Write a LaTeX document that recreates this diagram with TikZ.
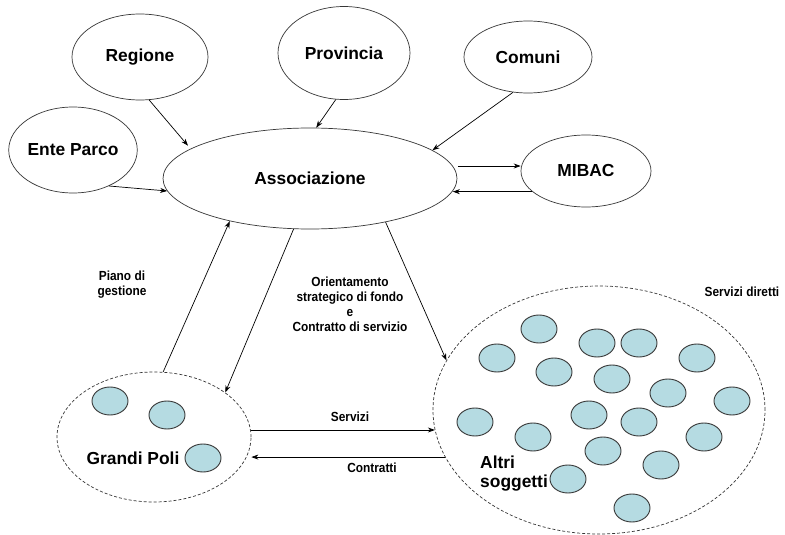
\documentclass[tikz,border=0pt]{standalone}
\usepackage{fontspec}
\setmainfont{Liberation Sans}
\newfontfamily\narrowfont[FakeStretch=0.9]{Liberation Sans}
\usetikzlibrary{shapes.geometric,arrows.meta}
\definecolor{poleblue}{RGB}{181,219,226}
\definecolor{rim}{RGB}{55,55,55}
\begin{document}
\begin{tikzpicture}[x=1pt,y=-1pt,
  bigtext/.style={font=\fontsize{17.4}{19}\selectfont\bfseries},
  smalltext/.style={font=\narrowfont\fontsize{13.2}{15}\selectfont\bfseries, align=center, inner sep=0pt},
  actor/.style={ellipse, draw=rim, line width=0.7pt, inner sep=0pt, bigtext},
  cluster/.style={ellipse, draw=rim, line width=0.7pt, dash pattern=on 3pt off 2pt, inner sep=0pt},
  pole/.style={ellipse, draw=rim, fill=poleblue, line width=0.9pt, minimum width=36pt, minimum height=28pt, inner sep=0pt},
  arr/.style={-{Stealth[length=7pt,width=5pt]}, line width=0.7pt, black}]
\useasboundingbox (0,0) rectangle (785,535);
\fill[white] (0,0) rectangle (785,535);

% institutional actors
\node[actor, minimum width=120pt, minimum height=86pt] (parco) at (73,150) {Ente Parco};
\node[actor, minimum width=136pt, minimum height=86pt] (regione) at (140,57) {Regione};
\node[actor, minimum width=132pt, minimum height=93pt] (provincia) at (344,53) {Provincia};
\node[actor, minimum width=128pt, minimum height=72pt] (comuni) at (528,57) {Comuni};
\node[actor, minimum width=130pt, minimum height=72pt] (mibac) at (586,171) {MIBAC};
\node[actor, minimum width=294pt, minimum height=101pt] (assoc) at (310,178.5) {Associazione};

% clusters of operators
\node[cluster, minimum width=194pt, minimum height=130pt] (gp) at (154,437) {};
\node[cluster, minimum width=332pt, minimum height=248pt] (altri) at (599,410) {};

\node[pole] (g1) at (110,401) {};
\node[pole] (g2) at (167,415) {};
\node[pole] (g3) at (203,458) {};
\node[bigtext, inner sep=0pt] (gptext) at (133,458) {Grandi Poli};

\node[bigtext, align=left, anchor=north west, inner sep=0pt] (altritext) at (480,456) {Altri\\soggetti};

\foreach \n/\x/\y in {a1/539/329, a2/597/343, a3/639/343, a4/497/358, a5/697/358,
  a6/554/372, a7/612/379, a8/668/393, a9/732/401, a10/475/422, a11/589/415,
  a12/639/422, a13/533/437, a14/704/437, a15/603/451, a16/661/465, a17/568/479,
  a18/632/508}
  \node[pole] (\n) at (\x,\y) {};

% labels
\node[smalltext] (piano) at (122,285) {Piano di\\gestione};
\node[smalltext] (orient) at (350,304.5) {Orientamento\\strategico di fondo\\e\\Contratto di servizio};
\node[smalltext] (servizi) at (350,417) {Servizi};
\node[smalltext] (contratti) at (372,468) {Contratti};
\node[smalltext] (diretti) at (742,292) {Servizi diretti};

% flows towards the association
\draw[arr] (parco.-45) -- (assoc.185.6);
\draw[arr, shorten >=4pt] (regione.-78) -- (assoc.166.2);
\draw[arr] (provincia.-100) -- (assoc.83);
\draw[arr] (comuni.-113) -- (assoc.13.2);
\draw[arr, shorten <=5pt] (assoc.5.6) -- (assoc.5.6 -| mibac.west);
\draw[arr] (mibac.201) -- (assoc.-5.6 |- mibac.201);

% association and operators
\draw[arr] (gp.82) -- (assoc.208.5);
\draw[arr] (assoc.-108.6) -- (gp.32.5);
\draw[arr] (assoc.-30) -- (altri.162.5);
\coordinate (srv) at ([yshift=7pt]gp.east);
\draw[arr] (srv) -- (srv -| altri.187);
\draw[arr] (altri.197.4) -- (altri.197.4 -| gp.east);
\end{tikzpicture}
\end{document}
